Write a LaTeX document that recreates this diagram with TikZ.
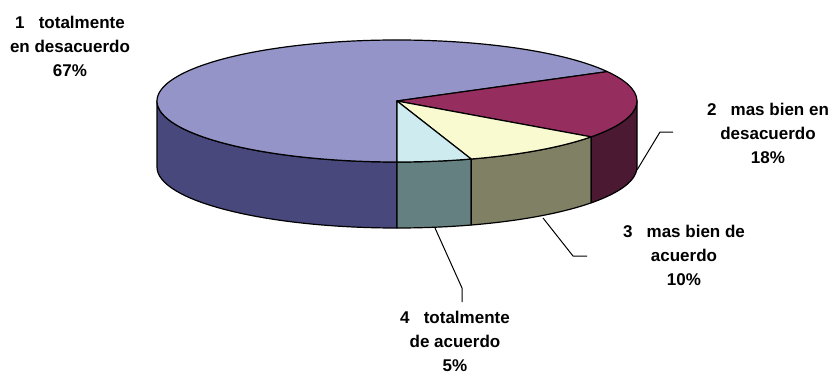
\documentclass[tikz,border=0pt]{standalone}
\usepackage{fontspec}
\setmainfont{Liberation Sans}
\definecolor{topone}{RGB}{148,148,200}
\definecolor{sideone}{RGB}{72,72,124}
\definecolor{toptwo}{RGB}{150,45,95}
\definecolor{sidetwo}{RGB}{75,25,50}
\definecolor{topthree}{RGB}{250,250,208}
\definecolor{sidethree}{RGB}{128,128,100}
\definecolor{topfour}{RGB}{206,236,240}
\definecolor{sidefour}{RGB}{100,128,128}

\begin{document}
\begin{tikzpicture}[x=1pt, y=1pt]
\useasboundingbox (0,0) rectangle (832,376);

\coordinate (c) at (397,275);

% pie sides, then the top
\begin{scope}[draw=black, line width=1.2pt, line join=round]
    \foreach \a/\b/\col in {180/270/sideone, 270/288/sidefour, 288/324/sidethree, 324/360/sidetwo}
        \filldraw[fill=\col] (c) ++(\a:240 and 61) arc[start angle=\a, end angle=\b, x radius=240, y radius=61]
            -- ++(0,-66) arc[start angle=\b, end angle=\a, x radius=240, y radius=61] -- cycle;
    \foreach \a/\b/\col in {28.8/270/topone, -36/28.8/toptwo, -72/-36/topthree, -90/-72/topfour}
        \filldraw[fill=\col] (c) -- ++(\a:240 and 61) arc[start angle=\a, end angle=\b, x radius=240, y radius=61] -- cycle;
\end{scope}

\begin{scope}[every node/.style={align=center, font=\bfseries\fontsize{17}{24}\selectfont}]
    \node (lab1) at (70,330) {1\ \ \ totalmente\\en desacuerdo\\67\%};
    \node (lab2) at (768,243) {2\ \ \ mas bien en\\desacuerdo\\18\%};
    \node (lab3) at (684,121) {3\ \ \ mas bien de\\acuerdo\\10\%};
    \node (lab4) at (455,35) {4\ \ \ totalmente\\de acuerdo\\5\%};
\end{scope}

\coordinate (p2) at (637,206);
\coordinate (k2) at (660,244);
\coordinate (e2) at (673,244);
\coordinate (p3) at (543,158);
\coordinate (k3) at (573,120);
\coordinate (e3) at (587,120);
\coordinate (p4) at (435,148);
\coordinate (k4) at (462,88);
\coordinate (e4) at (462,74);

\begin{scope}[line width=1pt]
    \draw (p2) -- (k2) -- (e2);
    \draw (p3) -- (k3) -- (e3);
    \draw (p4) -- (k4) -- (e4);
\end{scope}

\end{tikzpicture}
\end{document}
